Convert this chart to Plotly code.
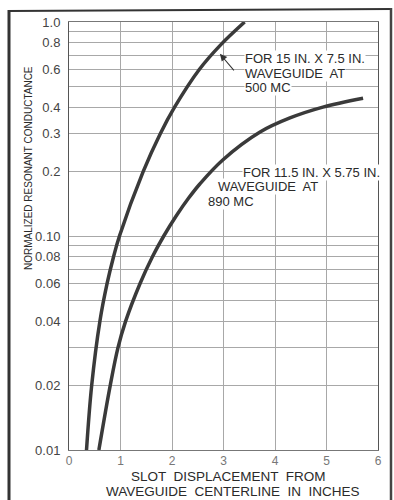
import math
import plotly.graph_objects as go

# ---- data ----
c500_x = [0.34, 0.44, 0.60, 0.74, 0.865, 0.98, 1.44, 1.77, 2.05, 2.53, 2.94, 3.41]
c500_y = [0.01, 0.02, 0.04, 0.06, 0.08, 0.10, 0.20, 0.30, 0.40, 0.60, 0.78, 1.00]

c890_x = [0.58, 0.80, 0.95, 1.10, 1.38, 1.62, 1.84, 2.09, 2.32, 2.54, 2.98, 3.71, 4.29, 4.93, 5.71]
c890_y = [0.01, 0.02, 0.03, 0.04, 0.06, 0.08, 0.10, 0.125, 0.15, 0.175, 0.226, 0.306, 0.356, 0.40, 0.44]

y_grid = [0.01, 0.02, 0.03, 0.04, 0.05, 0.06, 0.07, 0.08, 0.09,
          0.1, 0.2, 0.3, 0.4, 0.5, 0.6, 0.7, 0.8, 0.9, 1.0]
y_labels = ["0.01", "0.02", "", "0.04", "", "0.06", "", "0.08", "",
            "0.10", "0.2", "0.3", "0.4", "", "0.6", "", "0.8", "", "1.0"]
x_ticks = [0, 1, 2, 3, 4, 5, 6]
x_labels = ["0", "1", "2", "3", "4", "5", "6"]

FONT = "Liberation Sans, Arial, sans-serif"
INK = "#3a3a3a"

fig = go.Figure()
for xs, ys in ((c500_x, c500_y), (c890_x, c890_y)):
    fig.add_trace(go.Scatter(x=xs, y=ys, mode="lines",
                             line=dict(color=INK, width=3.5, shape="spline", smoothing=1.0),
                             hoverinfo="skip"))

fig.update_xaxes(range=[0, 6], tickvals=x_ticks, ticktext=x_labels,
                 showgrid=True, gridcolor="#a8a8a8", gridwidth=1,
                 showline=True, linecolor="#777", linewidth=1, mirror=True,
                 zeroline=False, ticks="", ticklabelstandoff=0,
                 tickfont=dict(family=FONT, size=12, color="#777"))
fig.update_yaxes(type="log", range=[-2, 0], tickvals=y_grid, ticktext=y_labels,
                 showgrid=True, gridcolor="#a8a8a8", gridwidth=1,
                 showline=True, linecolor="#555", linewidth=1, mirror=True,
                 zeroline=False, ticks="", ticklabelstandoff=5,
                 tickfont=dict(family=FONT, size=13, color="#444"))

# page pixels (body margin removed below)
W, H = 394, 500
PL, PR, PT, PB = 69, 378, 22, 450          # plot area
pw, ph = PR - PL, PB - PT

def px(x):
    return (x - PL) / pw

def py(y):
    return (PB - y) / ph

def label(x, y, text, anchor="left", size=13, angle=0, bg="white"):
    return dict(x=px(x), y=py(y), xref="paper", yref="paper", xanchor=anchor,
                yanchor="middle", text=text, showarrow=False, textangle=angle,
                font=dict(family=FONT, size=size, color="#2a2a2a"),
                bgcolor=bg, borderpad=0)

def arrow(x, y, ax, ay):
    # annotations on a log axis take log10 positions
    return dict(x=x, y=math.log10(y), xref="x", yref="y", text=" ", showarrow=True,
                font=dict(size=2), arrowhead=2, arrowsize=1.3, arrowwidth=1.1,
                arrowcolor="#333", ax=ax, ay=ay, standoff=0, startstandoff=0)

annotations = [
    arrow(2.93, 0.71, 16, 19),
    label(244, 58, "FOR 15 IN. X 7.5 IN."),
    label(244, 73, "WAVEGUIDE  AT"),
    label(244, 88, "500 MC"),
    arrow(3.10, 0.205, 6, 7),
    label(242, 172, "FOR 11.5 IN. X 5.75 IN."),
    label(217, 186, "WAVEGUIDE  AT"),
    label(207, 201, "890 MC"),
    label(28, 168, "NORMALIZED RESONANT CONDUCTANCE", anchor="center", size=10,
          angle=-90, bg="rgba(0,0,0,0)"),
    label(228, 476, "SLOT  DISPLACEMENT  FROM", anchor="center", size=13.5,
          bg="rgba(0,0,0,0)"),
    label(233, 491.5, "WAVEGUIDE  CENTERLINE  IN  INCHES", anchor="center", size=13.5,
          bg="rgba(0,0,0,0)"),
]

shapes = [
    dict(type="line", xref="paper", yref="paper", x0=px(9), x1=px(9), y0=py(10), y1=py(500),
         line=dict(color="#333", width=3)),
    dict(type="line", xref="paper", yref="paper", x0=px(8), x1=px(392), y0=py(11), y1=py(9),
         line=dict(color="#333", width=2)),
    dict(type="line", xref="paper", yref="paper", x0=px(391), x1=px(391), y0=py(8), y1=py(500),
         line=dict(color="#444", width=2.5)),
]

fig.update_layout(width=W, height=H,
                  margin=dict(l=PL, r=W - PR, t=PT, b=H - PB),
                  paper_bgcolor="white", plot_bgcolor="white", showlegend=False,
                  annotations=annotations, shapes=shapes)

fig.write_html("out.html", config={"displayModeBar": False},
               post_script="document.body.style.margin='0';"
                           "document.body.style.overflow='hidden';")
